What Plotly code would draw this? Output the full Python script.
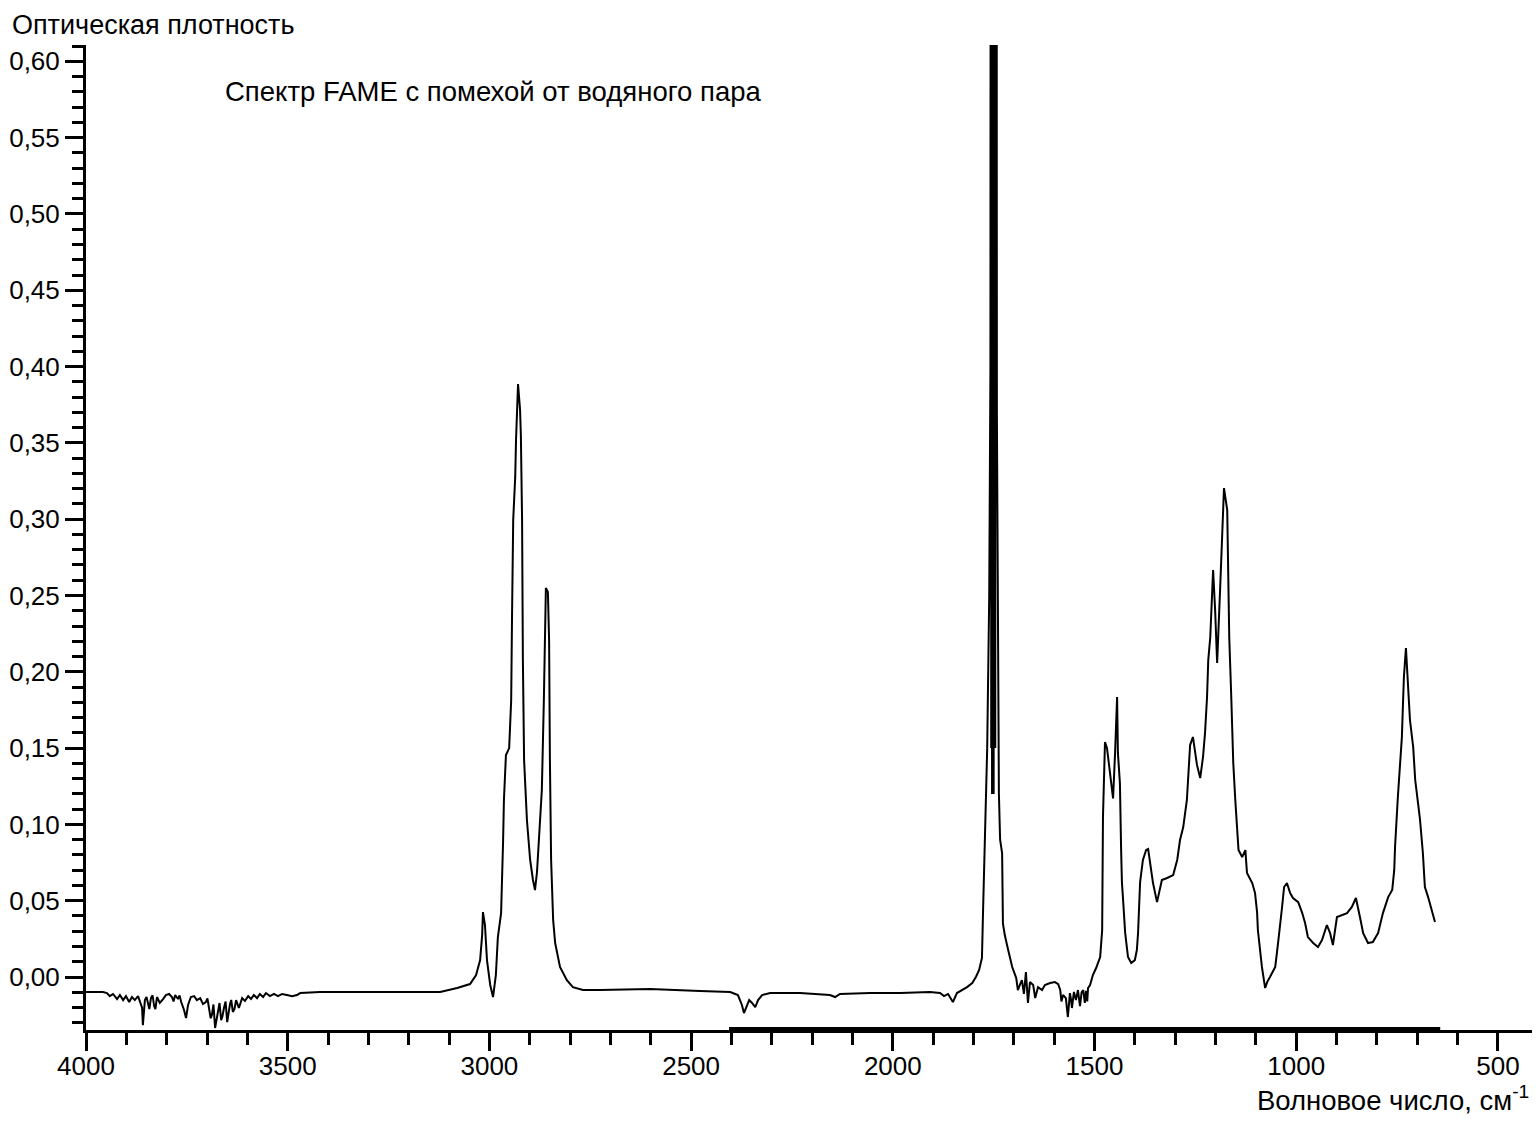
import numpy as np
import plotly.graph_objects as go

# ---- data: FTIR spectrum of FAME with water-vapour interference ----
# O-H / water vapour region
wn_oh = [4000,3978,3958,3948,3941,3933,3923,3916,3908,3901,
         3893,3886,3879,3871,3864,3861,3859,3856,3854,3850,
         3846,3843,3839,3835,3831,3828,3824,3817,3809,3802,
         3794,3787,3783,3779,3772,3768,3764,3760,3757,3752,
         3747,3740,3732,3725,3717,3710,3703,3699,3695,3691,
         3688,3684,3680,3677,3673,3669,3665,3662,3658,3654,
         3650,3647,3643,3640,3636,3632,3628,3621,3613,3606,
         3598,3591,3584,3576,3569,3561,3554,3544,3534,3524,
         3514,3502,3489,3477,3469,3420,3321,3222,3122]
abs_oh = [-0.0098,-0.0098,-0.0098,-0.0105,-0.0125,-0.0111,-0.0144,-0.0118,-0.0151,-0.0125,
          -0.0164,-0.0131,-0.0151,-0.0125,-0.0170,-0.0200,-0.0315,-0.0220,-0.0151,-0.0130,
          -0.0177,-0.0210,-0.0138,-0.0120,-0.0190,-0.0210,-0.0131,-0.0170,-0.0144,-0.0118,
          -0.0111,-0.0131,-0.0160,-0.0118,-0.0144,-0.0120,-0.0164,-0.0190,-0.0216,-0.0269,
          -0.0183,-0.0131,-0.0125,-0.0151,-0.0138,-0.0177,-0.0164,-0.0140,-0.0216,-0.0270,
          -0.0249,-0.0180,-0.0334,-0.0290,-0.0216,-0.0170,-0.0282,-0.0260,-0.0203,-0.0160,
          -0.0295,-0.0240,-0.0177,-0.0150,-0.0229,-0.0210,-0.0151,-0.0203,-0.0138,-0.0157,
          -0.0125,-0.0144,-0.0118,-0.0138,-0.0111,-0.0131,-0.0105,-0.0125,-0.0111,-0.0125,
          -0.0111,-0.0118,-0.0125,-0.0118,-0.0105,-0.0098,-0.0098,-0.0098,-0.0098]

# C-H stretching region
wn_ch = [3080,3048,3033,3023,3018,3016,3011,3006,2998,2991,2984,2979,2971,2969,2966,2964,2959,2951,2946,2944,
         2941,2936,2934,2929,2924,2922,2919,2917,2914,2907,2899,2892,2887,2882,2875,2870,2865,2862,2860,2855,
         2852,2850,2847,2842,2837,2825,2808,2793,2768,2726]
abs_ch = [-0.0072,-0.0046,0.0013,0.0111,0.0275,0.0426,0.0341,0.0111,-0.0052,-0.0131,0.0013,0.0262,0.0419,0.0721,0.0898,
          0.1160,0.1455,0.1500,0.1815,0.2340,0.2995,0.3277,0.3520,0.3886,0.3716,0.3552,0.2995,0.2077,0.1422,0.1029,
          0.0767,0.0636,0.0570,0.0688,0.0963,0.1225,0.1815,0.2470,0.2549,0.2523,0.2208,0.1422,0.0767,0.0374,0.0223,
          0.0066,-0.0020,-0.0066,-0.0085,-0.0085]

# baseline + CO2 region
wn_base = [2602,2478,2403,2384,2374,2369,2364,2356,2349,2341,2334,2324,2304,2230,2156,2143,2131,2056,1982,1908,
           1883,1873,1863,1851,1841,1828,1816,1803]
abs_base = [-0.0079,-0.0092,-0.0098,-0.0118,-0.0183,-0.0236,-0.0203,-0.0151,-0.0170,-0.0197,-0.0151,-0.0118,-0.0105,-0.0105,-0.0118,
            -0.0131,-0.0111,-0.0105,-0.0105,-0.0098,-0.0105,-0.0125,-0.0111,-0.0164,-0.0105,-0.0085,-0.0066,-0.0039]

# carbonyl band (saturated, noisy top)
wn_co = [1794,1786,1779,1776,1771,1766,1761,1759,1758,1757,1756,1755,1754,1753,1752,1751,1750,1749,1748,1747,
         1746,1745,1744,1743,1742,1739,1737,1734,1729,1727,1722,1714,1704]
abs_co = [0.0000,0.0046,0.0125,0.0460,0.0900,0.1500,0.2500,0.3300,0.4000,1.2000,0.1500,1.2000,0.1200,1.2000,0.2000,
          1.2000,0.1200,1.2000,0.2000,1.2000,0.1500,1.2000,0.3700,1.0000,0.3700,0.2000,0.1200,0.0900,0.0810,0.0350,
          0.0270,0.0177,0.0066]

# water-vapour bending region
wn_bend = [1694,1690,1685,1680,1675,1670,1665,1660,1652,1647,
           1640,1630,1623,1610,1598,1590,1585,1582,1578,1571,
           1566,1561,1558,1556,1551,1546,1541,1536,1532,1528,
           1524,1521,1518,1516,1511,1504,1496,1486]
abs_bend = [-0.0007,-0.0085,-0.0052,-0.0020,-0.0111,0.0033,-0.0170,-0.0033,-0.0052,-0.0138,
            -0.0066,-0.0085,-0.0052,-0.0039,-0.0033,-0.0046,-0.0085,-0.0160,-0.0118,-0.0138,
            -0.0262,-0.0105,-0.0150,-0.0203,-0.0098,-0.0151,-0.0085,-0.0190,-0.0100,-0.0085,
            -0.0170,-0.0090,-0.0160,-0.0072,-0.0052,0.0013,0.0059,0.0131]

# fingerprint region
wn_fp = [1481,1479,1474,1469,1464,1459,1454,1449,1444,1442,1437,1434,1432,1429,1424,1417,1409,1400,1395,1392,
         1387,1380,1372,1367,1362,1355,1345,1333,1320,1305,1295,1288,1280,1271,1263,1256,1246,1238,1231,1226,
         1221,1218,1213,1208,1206,1201,1196,1189,1184,1181,1179,1171,1169,1166,1161,1158,1156,1151,1146,1143,
         1134,1126,1122,1109,1102,1097,1095,1090,1085,1077,1072,1065,1052,1045,1040,1035,1030,1023,1015,1008,
         995,985,978,971,958,946,936,924,916,909,899,886,874,862,852,842,834,822,810,797,
         785,772,762,757,755,748,738,735,733,728,723,718,710,705,698,693,686,681,673,663,656]
abs_fp = [0.0308,0.1048,0.1540,0.1500,0.1390,0.1260,0.1170,0.1470,0.1835,0.1470,0.1270,0.0830,0.0620,0.0500,0.0290,
          0.0131,0.0092,0.0111,0.0177,0.0290,0.0620,0.0767,0.0832,0.0839,0.0747,0.0616,0.0491,0.0636,0.0649,0.0668,
          0.0767,0.0898,0.0983,0.1160,0.1520,0.1573,0.1390,0.1304,0.1442,0.1600,0.1835,0.2077,0.2228,0.2516,0.2667,
          0.2405,0.2058,0.2516,0.2910,0.3126,0.3204,0.3060,0.2798,0.2228,0.1835,0.1533,0.1402,0.1160,0.0944,0.0832,
          0.0786,0.0832,0.0682,0.0616,0.0550,0.0426,0.0308,0.0177,0.0066,-0.0072,-0.0033,0.0000,0.0066,0.0223,0.0328,
          0.0459,0.0590,0.0616,0.0550,0.0518,0.0491,0.0419,0.0354,0.0262,0.0223,0.0197,0.0242,0.0341,0.0288,0.0210,
          0.0393,0.0406,0.0419,0.0459,0.0518,0.0393,0.0288,0.0223,0.0229,0.0288,0.0419,0.0524,0.0570,0.0700,0.0852,
          0.1180,0.1573,0.1815,0.1966,0.2156,0.1900,0.1684,0.1507,0.1291,0.1140,0.1029,0.0813,0.0590,0.0524,0.0419,0.0360]

# tick labels
x_tick_vals = [4000, 3500, 3000, 2500, 2000, 1500, 1000, 500]
x_tick_text = ["4000", "3500", "3000", "2500", "2000", "1500", "1000", "500"]
y_tick_vals = [0.00, 0.05, 0.10, 0.15, 0.20, 0.25, 0.30, 0.35, 0.40, 0.45, 0.50, 0.55, 0.60]
y_tick_text = ["0,00", "0,05", "0,10", "0,15", "0,20", "0,25", "0,30", "0,35", "0,40", "0,45", "0,50", "0,55", "0,60"]

y_title = "Оптическая плотность"
x_title = "Волновое число, см<sup>-1</sup>"
chart_note = "Спектр FAME с помехой от водяного пара"

wavenumber = wn_oh + wn_ch + wn_base + wn_co + wn_bend + wn_fp
absorbance = abs_oh + abs_ch + abs_base + abs_co + abs_bend + abs_fp

x_minor = [float(v) for v in np.arange(4000, 499, -100)]
y_minor = [round(float(v), 2) for v in np.arange(-0.03, 0.6101, 0.01)]

FONT = "Liberation Sans, Arial, sans-serif"

fig = go.Figure()
fig.add_trace(go.Scatter(x=wavenumber, y=absorbance, mode="lines",
                         line=dict(color="black", width=2), showlegend=False))

fig.update_layout(
    width=1532, height=1120,
    margin=dict(l=78, r=7, t=37, b=98, autoexpand=False),
    paper_bgcolor="white", plot_bgcolor="white",
    font=dict(family=FONT, size=26, color="black"),
    xaxis=dict(range=[4000, 413], showgrid=False, zeroline=False, automargin=False,
               showline=True, linecolor="black", linewidth=3,
               ticks="outside", ticklen=18, tickwidth=2.5, tickcolor="black",
               tickmode="array", tickvals=x_tick_vals, ticktext=x_tick_text,
               ticklabelstandoff=-7,
               tickfont=dict(family=FONT, size=26, color="black"),
               minor=dict(ticks="outside", ticklen=12, tickwidth=2.5, tickcolor="black",
                          tickmode="array", tickvals=x_minor, showgrid=False)),
    yaxis=dict(range=[-0.0347, 0.6107], showgrid=False, zeroline=False, automargin=False,
               showline=True, linecolor="black", linewidth=3,
               ticks="outside", ticklen=18, tickwidth=2.5, tickcolor="black",
               tickmode="array", tickvals=y_tick_vals, ticktext=y_tick_text,
               tickfont=dict(family=FONT, size=26, color="black"),
               minor=dict(ticks="outside", ticklen=11, tickwidth=2.5, tickcolor="black",
                          tickmode="array", tickvals=y_minor, showgrid=False)),
    annotations=[
        dict(text=y_title, xref="paper", yref="paper", x=-0.0525, y=1.0203,
             xanchor="left", yanchor="middle", showarrow=False,
             font=dict(family=FONT, size=27, color="black")),
        dict(text=chart_note, xref="paper", yref="paper", x=0.0950, y=0.9523,
             xanchor="left", yanchor="middle", showarrow=False,
             font=dict(family=FONT, size=27.5, color="black")),
        dict(text=x_title, xref="paper", yref="paper", x=0.9985, y=-0.070,
             xanchor="right", yanchor="middle", showarrow=False,
             font=dict(family=FONT, size=27.5, color="black")),
    ],
    shapes=[dict(type="line", xref="x", yref="paper", x0=2406, x1=643, y0=0.001, y1=0.001,
                 line=dict(color="black", width=4))],
)

fig.write_html("out.html")
